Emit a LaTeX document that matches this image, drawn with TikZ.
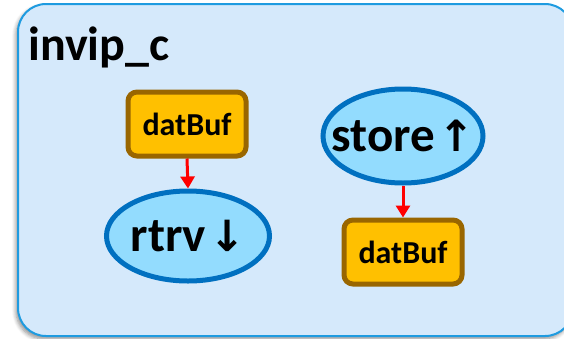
\documentclass[tikz,border=0pt]{standalone}
\usepackage{fontspec}
\setmainfont{Carlito}
\newfontfamily\symfont{DejaVu Sans}
\usetikzlibrary{arrows.meta,shapes.geometric,shadows.blur}

\definecolor{panelfill}{HTML}{D5E9FB}
\definecolor{panelline}{HTML}{1E9BE0}
\definecolor{buffill}{HTML}{FFC000}
\definecolor{bufline}{HTML}{996600}
\definecolor{opfill}{HTML}{93DCFE}
\definecolor{opline}{HTML}{0070C0}

% label that does not widen its node
\newcommand{\oplabel}[2]{\makebox[0pt][c]{#1\hspace{3pt}{\symfont\fontsize{43}{43}\selectfont#2}}}

\tikzset{
  panel/.style={draw=panelline, line width=2pt, fill=panelfill, rounded corners=28pt,
    blur shadow={shadow xshift=-2pt, shadow yshift=-3pt, shadow blur radius=4pt,
      shadow blur steps=6, shadow opacity=45}},
  bufbox/.style={draw=bufline, line width=5pt, fill=buffill, rounded corners=9pt,
    minimum width=118pt, minimum height=64pt, inner sep=0pt,
    font=\bfseries\fontsize{32}{32}\selectfont},
  opnode/.style={ellipse, draw=opline, line width=5pt, fill=opfill, inner sep=0pt,
    font=\bfseries\fontsize{49}{49}\selectfont},
  flow/.style={draw=red, line width=3pt, -{Triangle[width=14pt,length=12pt]}}
}

\begin{document}
\begin{tikzpicture}[x=1pt,y=-1pt]
  \useasboundingbox (0,0) rectangle (564,338);
  \path[panel] (18,4) rectangle (573,336);
  \node[anchor=base west, inner sep=0pt, font=\bfseries\fontsize{48}{48}\selectfont] (title) at (28,60) {invip\_c};

  \node[bufbox] (bufA) at (187,124) {datBuf};
  \node[opnode, minimum width=163pt, minimum height=90pt] (rtrv) at (188,236) {\oplabel{rtrv}{↓}};

  \node[opnode, minimum width=160pt, minimum height=94pt] (store) at (403,136) {\oplabel{store}{↑}};
  \node[bufbox] (bufB) at (403,252) {datBuf};

  \draw[flow] (bufA.south) -- (rtrv.north);
  \draw[flow] (store.south) -- (bufB.north);
\end{tikzpicture}
\end{document}
